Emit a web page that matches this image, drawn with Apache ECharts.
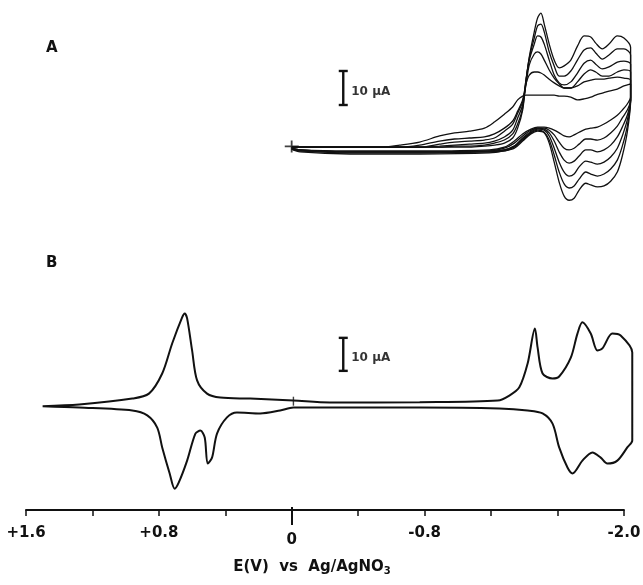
<!DOCTYPE html>
<html>
<head>
<meta charset="utf-8">
<script src="https://cdn.jsdelivr.net/npm/echarts@6/dist/echarts.min.js"></script>
<style>
  html, body { margin: 0; padding: 0; background: #fff; }
  #chart { width: 643px; height: 585px; }
</style>
</head>
<body>
<div id="chart"></div>
<script>
// ---- Panel A: repeated scans 0 V -> -2.04 V -> 0 V (potential in V, current in uA) ----
const scanForwardE = [0, -0.53, -0.65, -0.77, -0.89, -0.98, -1.07, -1.16, -1.22, -1.28, -1.33,
  -1.36, -1.39, -1.41, -1.43, -1.46, -1.48, -1.50, -1.52, -1.55, -1.58, -1.61, -1.64, -1.68,
  -1.72, -1.76, -1.80, -1.83, -1.87, -1.91, -1.96, -2.00, -2.04];
const scanReverseE = [-2.04, -2.02, -1.99, -1.96, -1.92, -1.88, -1.84, -1.80, -1.77, -1.73,
  -1.70, -1.67, -1.64, -1.61, -1.58, -1.55, -1.52, -1.48, -1.44, -1.39, -1.34, -1.28, -1.19,
  -0.77, -0.35, -0.05, 0];

const cycle1Fwd = [0.2, 0.2, 0.8, 1.7, 3.5, 4.4, 4.9, 5.8, 7.6, 9.9, 12.0, 14.1, 15.2, 15.5, 15.5, 15.5, 15.5, 15.5, 15.5, 15.5, 15.5, 15.2, 15.2, 14.9, 14.1, 14.4, 14.9, 15.5, 16.1, 16.7, 17.3, 18.2, 18.8];
const cycle2Fwd = [0.2, 0.2, 0.2, 0.8, 2.0, 2.6, 2.9, 3.2, 4.1, 5.8, 7.9, 10.8, 14.1, 18.8, 21.4, 22.3, 22.3, 22.0, 21.4, 20.2, 19.1, 18.2, 17.6, 17.6, 18.2, 19.4, 19.9, 20.2, 20.2, 20.5, 20.8, 20.5, 19.9];
const cycle3Fwd = [0.2, 0.2, 0.2, 0.2, 1.1, 1.7, 2.0, 2.3, 2.9, 4.9, 7.0, 10.2, 13.5, 18.5, 24.4, 27.6, 28.2, 27.6, 25.8, 22.9, 20.5, 18.8, 17.6, 17.6, 19.4, 21.7, 22.9, 22.3, 21.1, 21.1, 22.3, 22.9, 22.3];
const cycle4Fwd = [0.2, 0.2, 0.2, 0.2, 0.5, 0.8, 1.1, 1.4, 2.0, 3.2, 5.2, 8.8, 12.6, 19.9, 25.8, 30.5, 32.9, 32.6, 30.5, 25.8, 21.4, 19.1, 18.5, 19.4, 22.0, 24.9, 25.8, 24.6, 23.2, 23.8, 25.2, 25.5, 24.6];
const cycle5Fwd = [0.2, 0.2, 0.2, 0.2, 0.2, 0.5, 0.5, 0.8, 1.4, 2.3, 4.1, 7.0, 11.7, 19.9, 26.4, 32.3, 35.8, 36.4, 34.1, 28.2, 24.1, 21.1, 21.1, 22.6, 25.8, 28.8, 29.4, 27.9, 26.1, 27.3, 29.1, 29.1, 27.3];
const cycle6Fwd = [0.2, 0.2, 0.2, 0.2, 0.2, 0.2, 0.2, 0.5, 0.8, 1.4, 2.9, 5.8, 11.1, 19.4, 26.7, 34.1, 38.2, 39.6, 36.4, 30.5, 25.8, 23.5, 24.1, 25.8, 29.9, 32.9, 32.6, 30.8, 29.1, 30.5, 32.9, 32.3, 29.6];

const cycle1Rev = [14.9, 12.9, 11.1, 9.6, 8.2, 7.0, 6.1, 5.8, 5.5, 4.6, 3.8, 3.2, 3.5, 4.4, 5.2, 5.8, 6.1, 6.1, 5.5, 4.1, 2.0, 0.2, -0.6, -0.9, -0.9, -0.6, -0.1];
const cycle2Rev = [14.1, 11.1, 8.8, 6.4, 4.4, 2.9, 2.3, 2.6, 2.6, 1.1, -0.1, -0.6, -0.1, 1.7, 3.8, 5.2, 5.8, 5.8, 5.2, 3.5, 1.4, -0.1, -0.9, -1.2, -1.2, -0.6, -0.1];
const cycle3Rev = [14.1, 9.6, 6.1, 3.2, 0.8, -0.6, -1.2, -0.6, -0.6, -2.4, -3.9, -4.5, -3.6, -1.2, 2.0, 4.4, 5.5, 5.8, 4.9, 2.9, 0.5, -0.6, -0.9, -1.2, -1.2, -0.6, -0.1];
const cycle4Rev = [14.1, 8.2, 3.5, -0.1, -2.7, -4.2, -4.8, -4.2, -3.9, -5.6, -7.7, -8.3, -7.1, -4.2, -0.1, 3.5, 5.2, 5.5, 4.6, 2.6, 0.5, -0.6, -1.2, -1.2, -1.2, -0.9, -0.4];
const cycle5Rev = [14.1, 6.4, 0.5, -3.6, -6.2, -7.7, -8.3, -7.7, -7.1, -9.2, -11.2, -11.8, -10.6, -7.1, -2.1, 2.3, 4.6, 5.2, 4.4, 2.3, 0.2, -0.9, -1.2, -1.5, -1.5, -0.9, -0.4];
const cycle6Rev = [14.1, 4.6, -2.4, -7.1, -9.8, -11.2, -11.5, -10.9, -10.4, -12.4, -14.8, -15.4, -14.2, -10.1, -4.2, 1.4, 4.4, 4.9, 4.1, 2.0, -0.1, -0.9, -1.5, -1.8, -1.8, -1.2, -0.4];

// ---- Panel B: single scan +1.50 V -> -2.05 V -> +1.50 V ----
const loopE = [1.50, 1.28, 0.96, 0.86, 0.78, 0.72, 0.66, 0.645, 0.63, 0.60, 0.57, 0.51, 0.43, 0.25,
  -0.01, -0.23, -0.77, -1.24, -1.31, -1.37, -1.42, -1.464, -1.48, -1.51, -1.57, -1.61, -1.68,
  -1.72, -1.75, -1.80, -1.84, -1.87, -1.93, -1.98, -2.05, -2.05, -2.05, -2.02, -1.96, -1.90,
  -1.86, -1.81, -1.75, -1.69, -1.66, -1.61, -1.57, -1.51, -1.42, -1.25, -0.77, -0.23, -0.01,
  0.07, 0.19, 0.33, 0.39, 0.45, 0.48, 0.506, 0.524, 0.55, 0.58, 0.63, 0.68, 0.705, 0.735, 0.78,
  0.81, 0.87, 0.96, 1.28, 1.50];
const loopI = [-0.2, 0.3, 2.1, 3.6, 9.7, 18.8, 26.7, 27.9, 26.4, 16.7, 7.6, 3.6, 2.4, 2.1,
  1.5, 0.9, 1.0, 1.5, 3.0, 5.5, 12.7, 23.3, 17.6, 9.7, 8.2, 8.8, 14.5,
  21.8, 25.2, 21.8, 16.7, 17.3, 21.8, 21.2, 16.1, 1.5, -10.6, -12.7, -16.7, -17.6,
  -15.8, -14.2, -16.7, -20.6, -18.8, -12.7, -5.5, -2.4, -1.5, -0.9, -0.6, -0.6, -0.6,
  -1.5, -2.4, -2.1, -3.6, -8.5, -15.8, -17.6, -9.7, -7.6, -8.5, -16.7, -23.3, -25.2, -20.6, -12.7,
  -6.7, -3.0, -1.5, -0.6, -0.2];

// ---- scale bars, axis ticks and text ----
const scaleBarE = [-0.31, -0.31];        // potential where each scale bar stands (A, B)
const scaleBarBase = [12.6, 10.5];       // lower end of each bar, uA
const scaleBarSpan = 10;                 // uA
const scaleBarText = '10 \u03bcA';
const tickLabelValues = [1.6, 0.8, 0, -0.8, -2.0];
const axisTitle = 'E(V)  vs  Ag/AgNO{sub|3}';
const panelNames = ['A', 'B'];

const INK = '#111';
const TEXT_FONT = '"DejaVu Sans", sans-serif';

// plotting range for the traces runs a little past -2.0 V so the switching edge shows
const PLOT_MIN_E = -2.1, AXIS_MIN_E = -2.0, MAX_E = 1.6;
const PX_PER_V = 166.1;
const LEFT = 26;

function zip(xs, ys) { return xs.map((x, i) => [x, ys[i]]); }

const cycles = [
  [cycle1Fwd, cycle1Rev], [cycle2Fwd, cycle2Rev], [cycle3Fwd, cycle3Rev],
  [cycle4Fwd, cycle4Rev], [cycle5Fwd, cycle5Rev], [cycle6Fwd, cycle6Rev]
];

const series = [];

cycles.forEach(([fwd, rev], k) => {
  series.push({
    name: 'scan ' + (k + 1),
    type: 'line',
    xAxisIndex: 0, yAxisIndex: 0,
    data: zip(scanForwardE, fwd).concat(zip(scanReverseE, rev)),
    showSymbol: false, smooth: 0.3, silent: true,
    lineStyle: { color: INK, width: 1.3 }
  });
});

series.push({
  name: 'scan B',
  type: 'line',
  xAxisIndex: 1, yAxisIndex: 1,
  data: zip(loopE, loopI),
  showSymbol: false, smooth: 0.3, silent: true,
  lineStyle: { color: INK, width: 2 }
});

// start marker of panel A and the 0 V mark on panel B
series.push({
  type: 'scatter', xAxisIndex: 0, yAxisIndex: 0, silent: true,
  data: [[0, 0.4]],
  symbol: 'path://M0,5h14v1.8h-14z M6,0h1.8v12h-1.8z', symbolSize: [14, 12],
  itemStyle: { color: INK }
});
series.push({
  type: 'scatter', xAxisIndex: 1, yAxisIndex: 1, silent: true,
  data: [[-0.01, 1.3]],
  symbol: 'rect', symbolSize: [1.4, 9],
  itemStyle: { color: INK }
});

// 10 uA scale bars
[0, 1].forEach(p => {
  series.push({
    type: 'line', xAxisIndex: p, yAxisIndex: p, silent: true,
    data: [[scaleBarE[p], scaleBarBase[p]], [scaleBarE[p], scaleBarBase[p] + scaleBarSpan]],
    symbol: 'rect', symbolSize: [9, 2.4], showSymbol: true,
    itemStyle: { color: INK },
    lineStyle: { color: INK, width: 2.4 }
  });
  series.push({
    type: 'scatter', xAxisIndex: p, yAxisIndex: p, silent: true,
    data: [[scaleBarE[p], scaleBarBase[p] + (p === 0 ? 3.8 : 3.9)]],
    symbolSize: 0,
    label: {
      show: true, position: 'right', distance: 8, formatter: scaleBarText,
      color: '#000', fontFamily: TEXT_FONT, fontWeight: 'bold', fontSize: 12
    }
  });
});

function tickText(v) {
  const hit = tickLabelValues.find(t => Math.abs(t - v) < 1e-6);
  if (hit === undefined) return '';
  if (Math.abs(hit) < 1e-9) return '{zero|0}';
  return (hit > 0 ? '+' : '-') + Math.abs(hit).toFixed(1);
}

const plotWidth = (MAX_E - PLOT_MIN_E) * PX_PER_V;
const axisWidth = (MAX_E - AXIS_MIN_E) * PX_PER_V;

const option = {
  animation: false,
  backgroundColor: '#fff',
  grid: [
    { left: LEFT, width: plotWidth, top: 5, height: 200, outerBoundsMode: 'none' },
    { left: LEFT, width: plotWidth, top: 290, height: 200, outerBoundsMode: 'none' },
    { left: LEFT, width: axisWidth, top: 490, height: 20, outerBoundsMode: 'none' }
  ],
  xAxis: [
    { gridIndex: 0, type: 'value', min: PLOT_MIN_E, max: MAX_E, inverse: true, show: false },
    { gridIndex: 1, type: 'value', min: PLOT_MIN_E, max: MAX_E, inverse: true, show: false },
    {
      gridIndex: 2, type: 'value', min: AXIS_MIN_E, max: MAX_E, interval: 0.4, inverse: true,
      position: 'bottom',
      axisLine: { show: true, onZero: false, lineStyle: { color: INK, width: 2 } },
      axisTick: { show: true, length: 6, lineStyle: { color: INK, width: 1.5 } },
      splitLine: { show: false },
      axisLabel: {
        show: true, margin: 16, formatter: tickText, showMinLabel: true, showMaxLabel: true,
        color: INK, fontFamily: TEXT_FONT, fontWeight: 'bold', fontSize: 15,
        rich: { zero: { padding: [7, 0, 0, 0], color: INK, fontFamily: TEXT_FONT, fontWeight: 'bold', fontSize: 15 } }
      },
      name: axisTitle, nameLocation: 'middle', nameGap: 48,
      nameTextStyle: {
        color: INK, fontFamily: TEXT_FONT, fontWeight: 'bold', fontSize: 15, padding: [0, 26, 0, 0],
        rich: { sub: { fontSize: 10, fontWeight: 'bold', fontFamily: TEXT_FONT, color: INK, padding: [8, 0, 0, 0] } }
      }
    },
    {
      gridIndex: 2, type: 'value', min: AXIS_MIN_E, max: MAX_E, interval: 0.4, inverse: true,
      position: 'bottom', offset: -3,
      axisLine: { show: false, onZero: false },
      axisTick: { show: true, customValues: [0], length: 18, lineStyle: { color: INK, width: 2 } },
      axisLabel: { show: false },
      splitLine: { show: false }
    }
  ],
  yAxis: [
    { gridIndex: 0, type: 'value', min: -16.8, max: 42, show: false },
    { gridIndex: 1, type: 'value', min: -25.6, max: 35, show: false },
    { gridIndex: 2, type: 'value', min: 0, max: 1, show: false }
  ],
  graphic: [
    { type: 'text', left: 46, top: 41, style: { text: panelNames[0], fill: INK, font: 'bold 15px "DejaVu Sans", sans-serif' } },
    { type: 'text', left: 46, top: 256, style: { text: panelNames[1], fill: INK, font: 'bold 15px "DejaVu Sans", sans-serif' } }
  ],
  series: series
};

const chart = echarts.init(document.getElementById('chart'), null, { renderer: 'canvas' });
chart.setOption(option);
</script>
</body>
</html>
